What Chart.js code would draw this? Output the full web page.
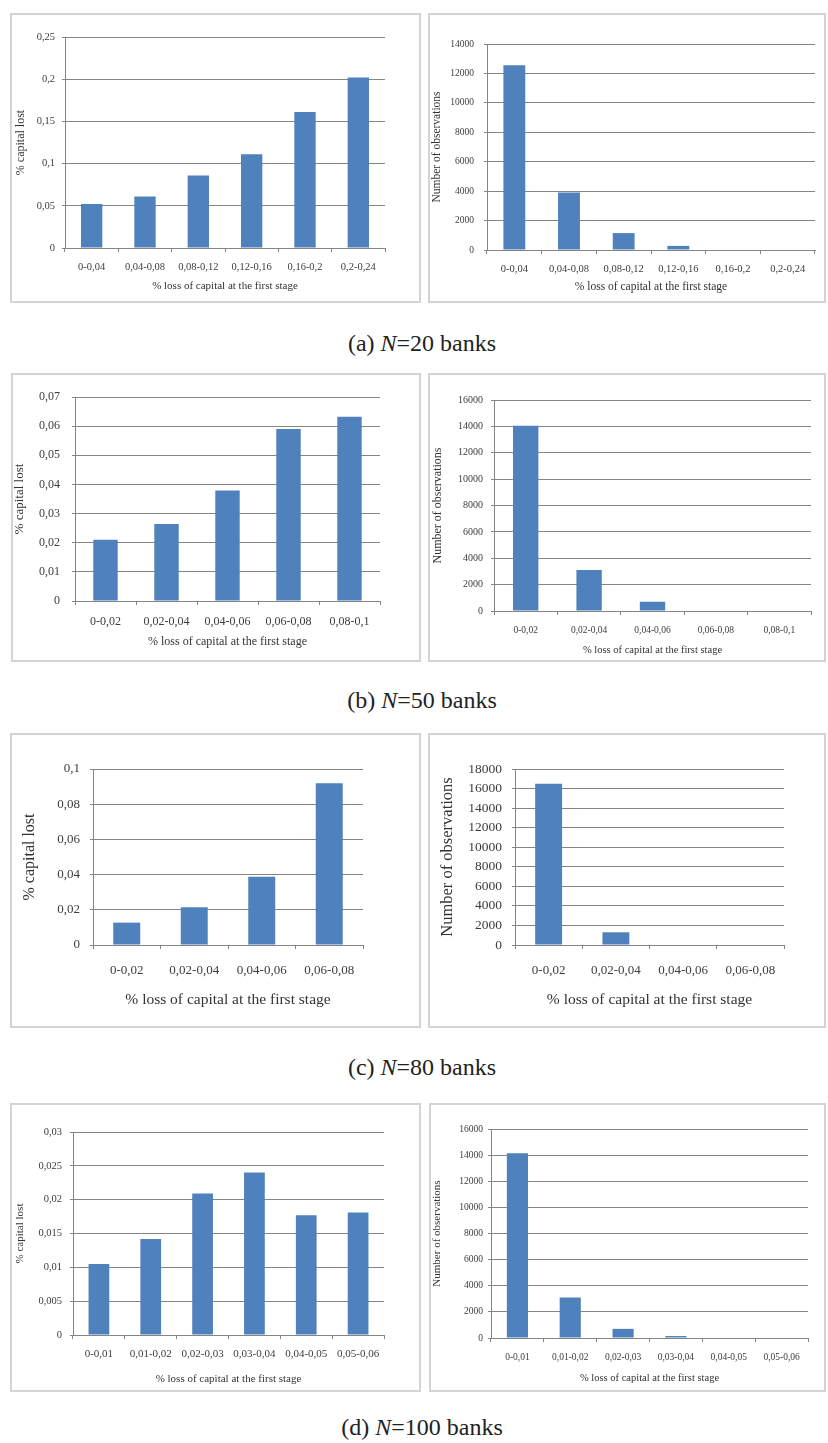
<!DOCTYPE html>
<html>
<head>
<meta charset="utf-8">
<script src="https://cdn.jsdelivr.net/npm/chart.js@4.4.1/dist/chart.umd.min.js"></script>
<style>
  html, body { margin: 0; padding: 0; background: #fff; }
  body { width: 828px; height: 1443px; position: relative; overflow: hidden; }
  .panel { position: absolute; box-sizing: border-box; border: 2px solid #d4d4d4; background: #fff; }
  .plot { position: absolute; }
  .plot canvas { display: block; }
  .caption { position: absolute; left: 0; width: 844px; text-align: center;
             font-family: 'Liberation Serif', 'Times New Roman', serif; font-size: 24px;
             line-height: 24px; color: #222; }
</style>
</head>
<body>
<div class="caption" style="top:331px">(a) <i>N</i>=20 banks</div>
<div class="caption" style="top:688px">(b) <i>N</i>=50 banks</div>
<div class="caption" style="top:1055px">(c) <i>N</i>=80 banks</div>
<div class="caption" style="top:1415px">(d) <i>N</i>=100 banks</div>

<script>
// ---- data: capital lost (left) and number of observations (right) per bin ----
const binsA  = ['0-0,04', '0,04-0,08', '0,08-0,12', '0,12-0,16', '0,16-0,2', '0,2-0,24'];
const lostA  = [0.052, 0.061, 0.086, 0.111, 0.161, 0.202];
const countA = [12550, 3900, 1150, 280, 0, 0];

const binsB  = ['0-0,02', '0,02-0,04', '0,04-0,06', '0,06-0,08', '0,08-0,1'];
const lostB  = [0.021, 0.0264, 0.0379, 0.059, 0.0632];
const countB = [14050, 3100, 700, 0, 0];

const binsC  = ['0-0,02', '0,02-0,04', '0,04-0,06', '0,06-0,08'];
const lostC  = [0.0127, 0.0214, 0.0388, 0.0919];
const countC = [16500, 1300, 0, 0];

const binsD  = ['0-0,01', '0,01-0,02', '0,02-0,03', '0,03-0,04', '0,04-0,05', '0,05-0,06'];
const lostD  = [0.0105, 0.0142, 0.0209, 0.024, 0.0177, 0.0181];
const countD = [14150, 3100, 700, 150, 0, 0];

// y-axis ranges: [max, step]
const lostAxisA  = [0.25, 0.05];
const lostAxisB  = [0.07, 0.01];
const lostAxisC  = [0.1, 0.02];
const lostAxisD  = [0.03, 0.005];
const countAxisA = [14000, 2000];
const countAxisB = [16000, 2000];
const countAxisC = [18000, 2000];
const countAxisD = [16000, 2000];

const X_TITLE = '% loss of capital at the first stage';
const Y_LOST = '% capital lost';
const Y_COUNT = 'Number of observations';

// ---- page geometry of each panel (absolute px) ----
const SERIF = "'Liberation Serif', 'Times New Roman', serif";
const BAR = '#4f81bd';
const GRID = '#858585';

const commaFmt = v => String(+v.toFixed(4)).replace('.', ',');
const plainFmt = v => String(v);

const panels = [
  { labels: binsA, values: lostA,  axis: lostAxisA,  fmt: commaFmt, yTitle: Y_LOST,
    box: [10, 13, 421, 303], plot: [65, 37, 385, 248], yTickRight: 55, yTitleX: 21, xTickY: 267, xTitleY: 286,
    fonts: { tx: 10.5, ty: 10.5, hx: 11, hy: 12 } },
  { labels: binsA, values: countA, axis: countAxisA, fmt: plainFmt, yTitle: Y_COUNT,
    box: [428, 13, 826, 303], plot: [487, 44, 815, 250], yTickRight: 474, yTitleX: 437, xTickY: 269, xTitleY: 287,
    fonts: { tx: 10.5, ty: 9.5, hx: 11.5, hy: 11.5 } },

  { labels: binsB, values: lostB,  axis: lostAxisB,  fmt: commaFmt, yTitle: Y_LOST,
    box: [11, 373, 421, 662], plot: [75, 397, 380, 601], yTickRight: 60, yTitleX: 20, xTickY: 622, xTitleY: 642,
    fonts: { tx: 12, ty: 12, hx: 12, hy: 13 } },
  { labels: binsB, values: countB, axis: countAxisB, fmt: plainFmt, yTitle: Y_COUNT,
    box: [428, 373, 826, 662], plot: [494, 400, 811, 611], yTickRight: 483, yTitleX: 438, xTickY: 630, xTitleY: 650,
    fonts: { tx: 9.5, ty: 10, hx: 10.5, hy: 12 } },

  { labels: binsC, values: lostC,  axis: lostAxisC,  fmt: commaFmt, yTitle: Y_LOST,
    box: [10, 733, 421, 1028], plot: [93, 769, 363, 945], yTickRight: 80, yTitleX: 30, xTickY: 971, xTitleY: 1000,
    fonts: { tx: 13, ty: 13, hx: 15.5, hy: 16 } },
  { labels: binsC, values: countC, axis: countAxisC, fmt: plainFmt, yTitle: Y_COUNT,
    box: [428, 733, 826, 1028], plot: [515, 769, 784, 945], yTickRight: 502, yTitleX: 448, xTickY: 971, xTitleY: 1000,
    fonts: { tx: 13, ty: 13.5, hx: 15.5, hy: 16.5 } },

  { labels: binsD, values: lostD,  axis: lostAxisD,  fmt: commaFmt, yTitle: Y_LOST,
    box: [10, 1103, 421, 1392], plot: [73, 1132, 384, 1335], yTickRight: 62, yTitleX: 20, xTickY: 1354, xTitleY: 1379,
    fonts: { tx: 11, ty: 10.5, hx: 11, hy: 11 } },
  { labels: binsD, values: countD, axis: countAxisD, fmt: plainFmt, yTitle: Y_COUNT,
    box: [429, 1103, 826, 1392], plot: [491, 1129, 808, 1338], yTickRight: 483, yTitleX: 437, xTickY: 1357, xTitleY: 1378,
    fonts: { tx: 9.5, ty: 9.5, hx: 10.5, hy: 11 } }
];

function place(el, x, y, w, h) {
  el.style.left = x + 'px'; el.style.top = y + 'px';
  el.style.width = w + 'px'; el.style.height = h + 'px';
}

function drawPanel(p) {
  const [bx0, by0, bx1, by1] = p.box;
  const [pl, pt, pr, pb] = p.plot;
  const W = bx1 - bx0, H = by1 - by0;

  const frame = document.createElement('div');
  frame.className = 'panel';
  place(frame, bx0, by0, W, H);
  document.body.appendChild(frame);

  const host = document.createElement('div');
  host.className = 'plot';
  place(host, bx0, by0, W, H);
  document.body.appendChild(host);

  const canvas = document.createElement('canvas');
  canvas.width = W; canvas.height = H;
  canvas.style.width = W + 'px'; canvas.style.height = H + 'px';
  host.appendChild(canvas);

  const xTickLen = 4, yTickLen = 3;
  const lhTx = p.fonts.tx * 1.2, lhHx = p.fonts.hx * 1.2, lhHy = p.fonts.hy * 1.2;

  new Chart(canvas, {
    type: 'bar',
    data: {
      labels: p.labels,
      datasets: [{ data: p.values, backgroundColor: BAR, borderWidth: 0,
                   barPercentage: 0.4, categoryPercentage: 1.0 }]
    },
    options: {
      responsive: false,
      animation: false,
      devicePixelRatio: 1,
      layout: { padding: { left: 0, top: pt - by0, right: bx1 - pr, bottom: 0 } },
      plugins: { legend: { display: false }, tooltip: { enabled: false } },
      scales: {
        x: {
          offset: true,
          grid: { offset: true, drawOnChartArea: false, drawTicks: true, tickLength: xTickLen, color: GRID },
          border: { display: true, color: GRID },
          ticks: { font: { family: SERIF, size: p.fonts.tx }, color: '#3c3c3c', maxRotation: 0,
                   autoSkip: false, padding: Math.max(0, p.xTickY - pb - xTickLen - lhTx / 2) },
          title: { display: true, text: X_TITLE, color: '#333',
                   font: { family: SERIF, size: p.fonts.hx },
                   padding: { top: 0, bottom: Math.max(0, by1 - p.xTitleY - lhHx / 2) } },
          afterFit(s) { s.height = by1 - pb; }
        },
        y: {
          min: 0, max: p.axis[0],
          grid: { color: GRID, drawTicks: true, tickLength: yTickLen },
          border: { display: true, color: GRID },
          ticks: { stepSize: p.axis[1], callback: p.fmt, color: '#3c3c3c', autoSkip: false,
                   font: { family: SERIF, size: p.fonts.ty },
                   padding: Math.max(0, pl - p.yTickRight - yTickLen) },
          title: { display: true, text: p.yTitle, color: '#333',
                   font: { family: SERIF, size: p.fonts.hy },
                   padding: { top: Math.max(0, p.yTitleX - bx0 - lhHy / 2), bottom: 0 } },
          afterFit(s) { s.width = pl - bx0; }
        }
      }
    }
  });
}

panels.forEach(drawPanel);
</script>
</body>
</html>
